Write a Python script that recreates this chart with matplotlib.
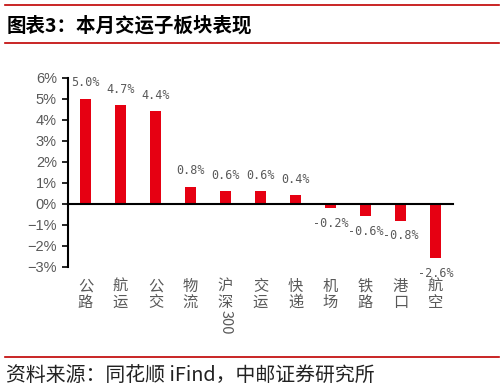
import matplotlib
matplotlib.use("Agg")
import matplotlib.pyplot as plt
from matplotlib.lines import Line2D

categories = ["公路", "航运", "公交", "物流", "沪深300", "交运", "快递", "机场", "铁路", "港口", "航空"]
values = [5.0, 4.7, 4.4, 0.8, 0.6, 0.6, 0.4, -0.2, -0.6, -0.8, -2.6]
yticks = [-3, -2, -1, 0, 1, 2, 3, 4, 5, 6]
title = "图表3：本月交运子板块表现"
source = "资料来源：同花顺 iFind，中邮证券研究所"

RED = "#E60012"
GRAY = "#595959"
CJK = ["Noto Sans CJK SC", "DejaVu Sans"]

W, H = 504, 392
fig = plt.figure(figsize=(W / 100, H / 100), dpi=100)

def fx(px):
    return px / W

def fy(py):
    return 1 - py / H

# decorative red lines
for y in (5, 43, 357):
    fig.add_artist(Line2D([fx(5), fx(499)], [fy(y), fy(y)], color="#C00000", lw=1.2))

fig.text(fx(7), fy(26), title, fontsize=14, fontweight="bold", family=CJK,
         va="center", ha="left", color="black")
fig.text(fx(6), fy(376), source, fontsize=14.3, family=CJK, va="center",
         ha="left", color="#222222")

left, right, top, bottom = 68, 453, 77.7, 266.7
ax = fig.add_axes([fx(left), fy(bottom), fx(right - left), (bottom - top) / H])

x = list(range(len(categories)))
ax.bar(x, values, width=0.32, color=RED, zorder=2)
ax.set_xlim(-0.5, len(categories) - 0.5)
ax.set_ylim(-3, 6)

ax.spines["top"].set_visible(False)
ax.spines["right"].set_visible(False)
ax.spines["bottom"].set_position(("data", 0))
ax.spines["bottom"].set_zorder(3)
for s in ("left", "bottom"):
    ax.spines[s].set_linewidth(1.5)
    ax.spines[s].set_color("black")

ax.set_xticks([])
ax.set_yticks(yticks)
ax.set_yticklabels([(f"{v}%" if v >= 0 else f"\u2212{-v}%") for v in yticks],
                   family="Liberation Sans", fontsize=10.5, color=GRAY)
ax.tick_params(axis="y", direction="out", length=4, width=1.2, color="black", pad=4)

# value labels
for xi, v in zip(x, values):
    off = 11.5 if v >= 0 else -11
    ax.annotate(f"{v:.1f}%", xy=(xi, v), xytext=(0, off), textcoords="offset points",
                ha="center", va="center", family="DejaVu Sans Mono", fontsize=8.5,
                color=GRAY)

# vertical category labels
for xi, cat in zip(x, categories):
    cjk = "".join(c for c in cat if ord(c) > 127)
    rest = "".join(c for c in cat if ord(c) <= 127)
    ax.annotate("\n".join(cjk), xy=(xi, -3), xytext=(0, -8), textcoords="offset points",
                ha="center", va="top", family=CJK, fontsize=11, color=GRAY,
                linespacing=0.95, annotation_clip=False)
    if rest:
        ax.annotate(rest, xy=(xi, -3), xytext=(0, -31),
                    textcoords="offset points", ha="center", va="top",
                    family=CJK, fontsize=10.5, color=GRAY, rotation=-90,
                    annotation_clip=False)

fig.savefig("out.png", dpi=100)
